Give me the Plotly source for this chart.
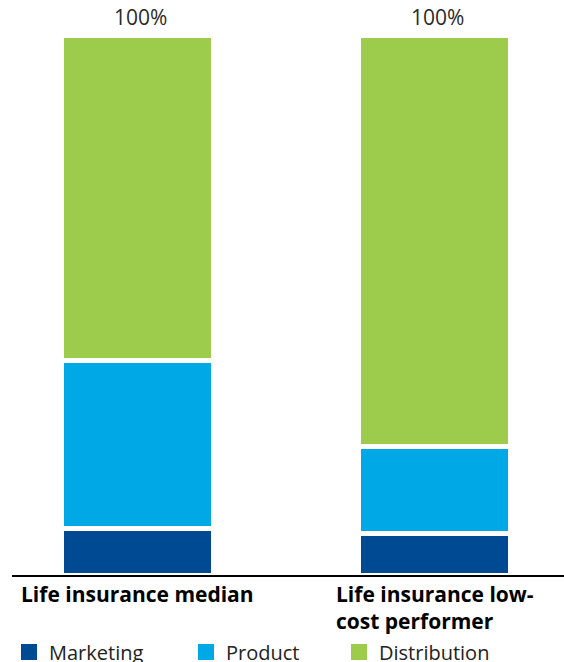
import plotly.graph_objects as go

categories = ["Life insurance median", "Life insurance low-cost performer"]
category_labels = ["Life insurance median", "Life insurance low-<br>cost performer"]
series_names = ["Marketing", "Product", "Distribution"]
marketing = [8.6, 7.6]
product = [31.1, 16.2]
distribution = [60.3, 76.2]
total_labels = ["100%", "100%"]

colors = ["#004A93", "#00A9E6", "#9DCB4B"]
values = [marketing, product, distribution]
legend_ids = ["legend", "legend2", "legend3"]
legend_text_x = [50, 227, 380]

FONT = "Open Sans"
fig = go.Figure()
for name, vals, col in zip(series_names, values, colors):
    fig.add_trace(go.Bar(
        x=categories, y=vals, name=name, width=0.511,
        marker=dict(color=col, line=dict(color="white", width=5)),
        showlegend=False,
    ))
# legend entries (large square swatches)
for name, col, lg in zip(series_names, colors, legend_ids):
    fig.add_trace(go.Scatter(
        x=[None], y=[None], mode="markers", name=name, legend=lg,
        marker=dict(symbol="square", size=16, color=col), showlegend=True,
    ))

totals = [sum(v) for v in zip(*values)]
for cat, tot, lab in zip(categories, totals, total_labels):
    fig.add_annotation(x=cat, y=tot, xref="x", yref="y", text=lab, showarrow=False,
                       yanchor="bottom", yshift=2, xshift=3,
                       font=dict(family=FONT, size=21, color="#2a2a2a"))
for cat, lab in zip(categories, category_labels):
    fig.add_annotation(x=cat, y=0, xref="x", yref="paper", text=lab, showarrow=False,
                       xanchor="center", yanchor="top", yshift=-3, align="left",
                       font=dict(family=FONT, size=21, color="#000000", weight="bold"))

layouts = {}
for lg, tx in zip(legend_ids, legend_text_x):
    layouts[lg] = dict(orientation="h", xref="container", yref="container",
                       x=(tx - 41) / 564, y=10 / 662,
                       xanchor="left", yanchor="middle", bgcolor="rgba(0,0,0,0)",
                       font=dict(family=FONT, size=20, color="#222222"))

fig.update_layout(
    width=564, height=662,
    margin=dict(l=12, r=0, t=35, b=87),
    barmode="stack",
    plot_bgcolor="white", paper_bgcolor="white",
    showlegend=True,
    xaxis=dict(range=[-0.422, 1.434], showticklabels=False, showgrid=False, zeroline=False,
               showline=True, linecolor="black", linewidth=2, ticks=""),
    yaxis=dict(range=[0, 100], visible=False, showgrid=False, zeroline=False),
    **layouts,
)
fig.write_html("out.html")
